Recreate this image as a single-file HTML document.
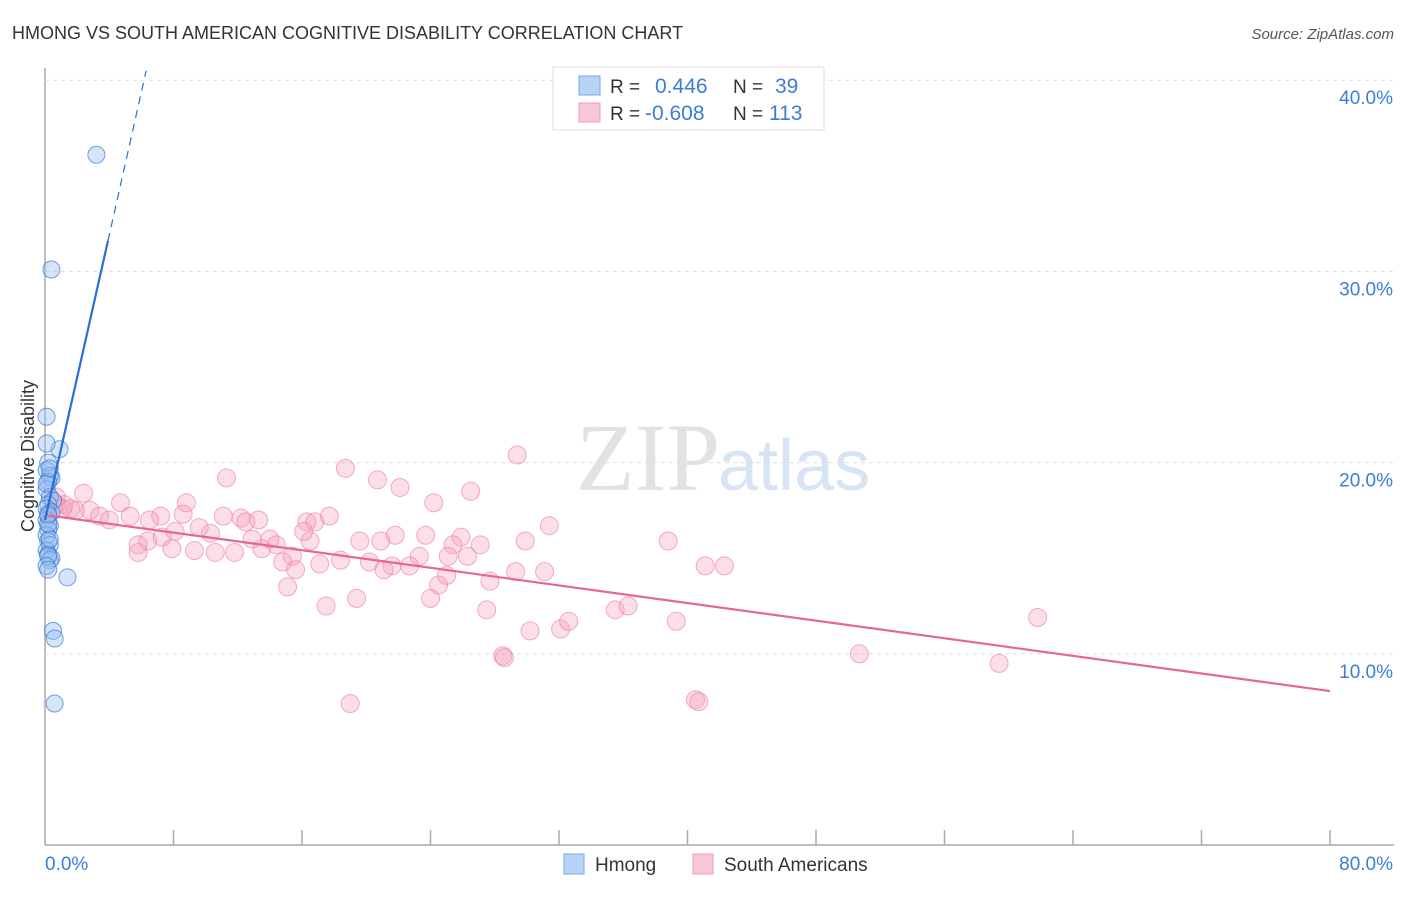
<!DOCTYPE html>
<html><head><meta charset="utf-8"><style>
body{margin:0;background:#fff;font-family:"Liberation Sans",sans-serif}
</style></head><body>
<svg id="c" width="1406" height="892" xmlns="http://www.w3.org/2000/svg" style="font-family:'Liberation Sans',sans-serif">
<text x="12" y="39" font-size="18" fill="#333">HMONG VS SOUTH AMERICAN COGNITIVE DISABILITY CORRELATION CHART</text>
<text x="1394" y="39" font-size="15" fill="#555" font-style="italic" text-anchor="end">Source: ZipAtlas.com</text>
<text x="720" y="490" font-size="96" fill="#e2e2e2" text-anchor="end" font-family="Liberation Serif">ZIP</text>
<text x="718" y="490" font-size="72" fill="#d6e4f5">atlas</text>
<text transform="translate(34,456) rotate(-90)" font-size="18" fill="#333" text-anchor="middle">Cognitive Disability</text>
<g id="grid"></g><g id="pts"></g><g id="lines"></g>
<g>
<rect x="553" y="67" width="271" height="63" fill="#fff" stroke="#ddd"/>
<rect x="579" y="76" width="21" height="19" fill="#b8d3f5" stroke="#7aa8e8"/>
<rect x="579" y="103" width="21" height="19" fill="#f9c8d8" stroke="#f09ab6"/>
<text x="610" y="93" font-size="19" fill="#333">R = </text><text x="655" y="93" font-size="21" fill="#3b7dd8">0.446</text>
<text x="733" y="93" font-size="19" fill="#333">N = </text><text x="775" y="93" font-size="21" fill="#3b7dd8">39</text>
<text x="610" y="120" font-size="19" fill="#333">R = </text><text x="645" y="120" font-size="21" fill="#3b7dd8">-0.608</text>
<text x="733" y="120" font-size="19" fill="#333">N = </text><text x="769" y="120" font-size="21" fill="#3b7dd8">113</text>
</g>
<g>
<rect x="564" y="854" width="20" height="20" fill="#b8d3f5" stroke="#7aa8e8"/>
<text x="595" y="871" font-size="19" fill="#333">Hmong</text>
<rect x="693" y="854" width="20" height="20" fill="#f9c8d8" stroke="#f09ab6"/>
<text x="724" y="871" font-size="19" fill="#333">South Americans</text>
</g>
</svg>
<script>
const yTicks=[10,20,30,40];
const xTickLabels=["0.0%","80.0%"];
const hmongX=[3.2,0.4,0.1,0.9,0.4,0.1,0.2,0.1,0.3,0.2,0.1,0.3,0.5,0.2,0.1,0.4,0.2,0.1,0.3,0.2,0.1,0.2,0.3,0.1,0.2,0.4,0.3,0.2,0.1,0.2,0.3,0.2,1.4,0.5,0.6,0.6,0.2,0.1,0.3];
const hmongY=[36.1,30.1,22.4,20.7,19.2,21.0,20.0,19.6,19.3,19.0,18.6,18.2,18.0,17.8,17.6,17.4,17.2,17.0,16.7,16.5,16.2,15.9,15.7,15.4,15.2,15.0,14.9,15.1,14.6,14.4,16.0,16.8,14.0,11.2,10.8,7.4,17.3,18.9,19.7];
const saX=[29.4,18.7,11.3,20.7,22.1,26.5,24.2,2.4,4.7,8.8,0.7,1.2,1.9,2.8,3.4,5.3,7.2,8.6,11.1,12.2,13.3,12.5,17.7,16.3,16.8,31.4,25.9,21.8,23.7,6.4,7.3,8.1,10.3,14.0,16.5,19.6,20.9,25.4,27.1,29.9,38.8,5.8,7.9,9.3,10.6,11.8,13.5,15.4,18.4,20.2,21.6,23.3,25.1,26.3,41.1,42.3,14.8,15.6,17.1,21.1,22.7,24.5,25.0,27.7,29.3,31.1,15.1,17.5,19.4,24.0,27.5,35.5,36.3,30.2,32.1,32.6,39.3,61.8,28.5,28.6,50.7,59.4,19.0,40.5,40.7,5.8,9.6,12.9,14.4,16.1,6.5,4.0,0.7,1.1,1.6];
const saY=[20.4,19.7,19.2,19.1,18.7,18.5,17.9,18.4,17.9,17.9,18.2,17.8,17.5,17.5,17.2,17.2,17.2,17.3,17.2,17.1,17.0,16.9,17.2,16.9,16.9,16.7,16.1,16.2,16.2,15.9,16.1,16.4,16.3,16.0,15.9,15.9,15.9,15.7,15.7,15.9,15.9,15.3,15.5,15.4,15.3,15.3,15.5,15.1,14.9,14.8,14.6,15.1,15.1,15.1,14.6,14.6,14.8,14.4,14.7,14.4,14.6,13.6,14.1,13.8,14.3,14.3,13.5,12.5,12.9,12.9,12.3,12.3,12.5,11.2,11.3,11.7,11.7,11.9,9.9,9.8,10.0,9.5,7.4,7.6,7.5,15.7,16.6,16.0,15.7,16.4,17.0,17.0,17.8,17.6,17.6];
const X=v=>45+v*1285/80, Y=v=>845-v*191.2/10;
const ns="http://www.w3.org/2000/svg";
function mk(t,a,p){const e=document.createElementNS(ns,t);for(const k in a)e.setAttribute(k,a[k]);p.appendChild(e);return e;}
const g=document.getElementById('grid');
mk('line',{x1:45,y1:68,x2:45,y2:845,stroke:'#aaa','stroke-width':1.5},g);
mk('line',{x1:45,y1:845,x2:1394,y2:845,stroke:'#aaa','stroke-width':1.5},g);
for(let i=1;i<=10;i++){const x=45+i*128.5;const l=mk('line',{x1:x,y1:830,x2:x,y2:845,stroke:'#aaa','stroke-width':1.5},g);

}
yTicks.forEach(t=>{const l=mk('line',{x1:45,y1:Y(t),x2:1394,y2:Y(t),stroke:'#ddd','stroke-dasharray':'4,4'},g);


const tx=mk('text',{x:1393,y:Y(t)+24,'font-size':19,fill:'#3b7dd8','text-anchor':'end'},g);tx.textContent=t.toFixed(1)+'%';

});
const t0=mk('text',{x:45,y:870,'font-size':19,fill:'#3b7dd8'},g);t0.textContent=xTickLabels[0];


const t1=mk('text',{x:1393,y:870,'font-size':19,fill:'#3b7dd8','text-anchor':'end'},g);t1.textContent=xTickLabels[1];


const p=document.getElementById('pts');
saX.forEach((x,i)=>{const c=mk('circle',{cx:X(x),cy:Y(saY[i]),r:9,fill:'rgba(244,160,190,0.35)',stroke:'rgba(236,120,160,0.6)','stroke-width':1},p);

});
hmongX.forEach((x,i)=>{const c=mk('circle',{cx:X(x),cy:Y(hmongY[i]),r:8.5,fill:'rgba(150,190,240,0.4)',stroke:'rgba(60,120,210,0.7)','stroke-width':1},p);

});
const L=document.getElementById('lines');
const pl=mk('line',{x1:X(0),y1:Y(17.26),x2:X(80),y2:Y(8.05),stroke:'#e8649a','stroke-width':2.2},L);


const bl=mk('line',{x1:X(0),y1:Y(17.0),x2:X(3.92),y2:Y(31.6),stroke:'#2a6fd6','stroke-width':2.2},L);


const bd=mk('line',{x1:X(3.92),y1:Y(31.6),x2:X(6.3),y2:Y(40.5),stroke:'#2a6fd6','stroke-width':1.2,'stroke-dasharray':'8,6'},L);


</script>
</body></html>
